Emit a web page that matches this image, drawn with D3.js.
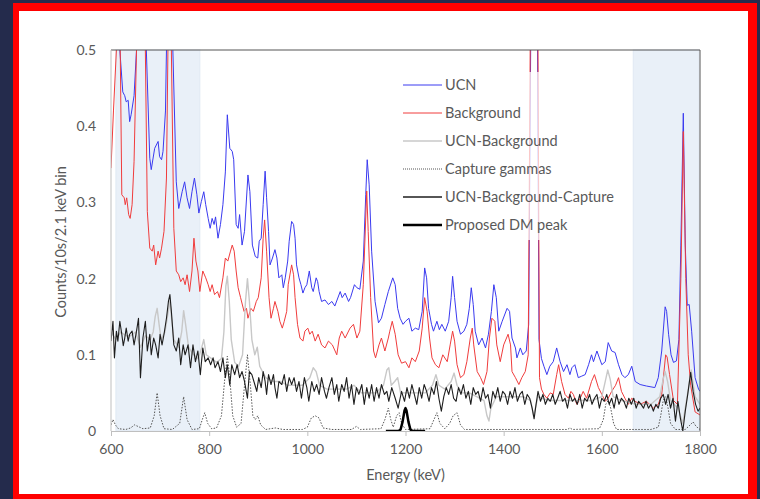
<!DOCTYPE html>
<html>
<head>
<meta charset="utf-8">
<script src="https://cdn.jsdelivr.net/npm/d3@7"></script>
<style>
  html, body { margin: 0; padding: 0; background: #242b4c; }
  svg { display: block; }
</style>
</head>
<body>
<div id="chart"></div>
<script>
// Energy spectrum: UCN run vs background

const xTicks = [600, 800, 1000, 1200, 1400, 1600, 1800];
const yTicks = [0, 0.1, 0.2, 0.3, 0.4, 0.5];
const yTickLabels = ["0", "0.1", "0.2", "0.3", "0.4", "0.5"];

// shaded energy windows (keV)
const shadedBands = [[610, 781], [1664, 1798]];

const legendLabels = ["UCN", "Background", "UCN-Background", "Capture gammas", "UCN-Background-Capture", "Proposed DM peak"];

// [energy keV, counts]
const ucn = [[600,0.56],[606,0.75],[612,0.62],[618,0.5],[624,0.445],[628,0.44],[631,0.432],[635,0.434],[638,0.406],[641,0.415],[647,0.44],[652,0.5],[660,0.9],[668,0.62],[672,0.5],[679,0.358],[682,0.343],[689,0.371],[696,0.38],[699,0.36],[703,0.356],[706,0.367],[711,0.42],[713,0.5],[720,1.0],[726,0.5],[733,0.327],[738,0.292],[745,0.314],[750,0.327],[755,0.306],[760,0.292],[765,0.314],[770,0.332],[775,0.31],[779,0.286],[784,0.301],[789,0.314],[793,0.297],[798,0.279],[802,0.266],[806,0.279],[810,0.271],[813,0.281],[818,0.253],[823,0.271],[828,0.297],[833,0.34],[837,0.415],[842,0.371],[847,0.367],[850,0.356],[855,0.271],[859,0.266],[862,0.284],[867,0.244],[872,0.262],[879,0.336],[883,0.314],[888,0.244],[894,0.229],[899,0.227],[902,0.249],[906,0.253],[910,0.297],[914,0.341],[917,0.306],[921,0.262],[924,0.218],[929,0.227],[934,0.238],[938,0.227],[942,0.201],[948,0.205],[951,0.188],[955,0.201],[960,0.223],[963,0.249],[968,0.275],[972,0.271],[975,0.253],[978,0.218],[983,0.201],[987,0.192],[991,0.181],[995,0.188],[999,0.192],[1004,0.21],[1009,0.188],[1012,0.183],[1018,0.201],[1021,0.196],[1024,0.183],[1029,0.17],[1036,0.172],[1043,0.166],[1050,0.17],[1056,0.164],[1067,0.183],[1071,0.175],[1077,0.181],[1084,0.17],[1088,0.175],[1096,0.192],[1101,0.188],[1107,0.186],[1114,0.223],[1119,0.31],[1122,0.356],[1126,0.323],[1131,0.236],[1138,0.17],[1145,0.142],[1151,0.148],[1158,0.166],[1165,0.183],[1174,0.201],[1179,0.192],[1184,0.161],[1189,0.148],[1195,0.14],[1200,0.144],[1207,0.148],[1213,0.131],[1220,0.135],[1227,0.133],[1234,0.157],[1239,0.214],[1243,0.201],[1247,0.161],[1253,0.14],[1257,0.131],[1264,0.144],[1269,0.133],[1274,0.14],[1281,0.131],[1288,0.144],[1293,0.175],[1296,0.203],[1300,0.175],[1305,0.144],[1312,0.127],[1319,0.131],[1325,0.14],[1330,0.161],[1334,0.188],[1338,0.166],[1342,0.131],[1349,0.113],[1356,0.122],[1363,0.109],[1369,0.127],[1375,0.157],[1380,0.192],[1385,0.175],[1390,0.131],[1397,0.144],[1407,0.161],[1412,0.157],[1417,0.122],[1424,0.109],[1427,0.096],[1434,0.109],[1439,0.1],[1446,0.105],[1451,0.14],[1455,0.5],[1463,2.5],[1469,0.5],[1472,0.12],[1477,0.095],[1482,0.085],[1488,0.074],[1494,0.085],[1501,0.091],[1508,0.109],[1515,0.091],[1522,0.078],[1529,0.087],[1535,0.074],[1539,0.083],[1545,0.087],[1552,0.07],[1559,0.072],[1566,0.074],[1573,0.087],[1579,0.1],[1583,0.091],[1590,0.105],[1600,0.087],[1607,0.091],[1613,0.116],[1620,0.105],[1627,0.103],[1634,0.087],[1641,0.074],[1647,0.07],[1654,0.074],[1661,0.085],[1668,0.065],[1678,0.061],[1691,0.059],[1708,0.057],[1715,0.07],[1722,0.105],[1729,0.163],[1732,0.157],[1736,0.127],[1741,0.1],[1746,0.09],[1752,0.092],[1757,0.12],[1761,0.244],[1766,0.417],[1770,0.244],[1774,0.165],[1778,0.166],[1783,0.131],[1790,0.07],[1797,0.055],[1800,0.052]];

const background = [[600,0.345],[605,0.42],[611,0.5],[615,0.8],[618,0.55],[622,0.31],[627,0.306],[629,0.297],[632,0.306],[636,0.284],[639,0.279],[643,0.297],[647,0.354],[652,0.5],[660,1.0],[670,0.5],[674,0.288],[679,0.24],[684,0.236],[687,0.244],[691,0.218],[696,0.236],[699,0.227],[703,0.24],[708,0.262],[713,0.332],[716,0.5],[721,1.0],[723,0.5],[728,0.266],[733,0.21],[738,0.205],[742,0.196],[747,0.201],[751,0.192],[755,0.205],[760,0.183],[765,0.21],[769,0.253],[773,0.223],[777,0.21],[781,0.183],[787,0.21],[793,0.201],[798,0.192],[802,0.183],[806,0.192],[811,0.179],[817,0.183],[821,0.175],[828,0.201],[833,0.227],[838,0.223],[843,0.235],[847,0.244],[851,0.236],[855,0.21],[859,0.188],[864,0.175],[871,0.157],[876,0.161],[879,0.148],[885,0.161],[890,0.157],[896,0.17],[900,0.175],[906,0.201],[910,0.253],[913,0.277],[917,0.236],[922,0.175],[926,0.148],[931,0.161],[934,0.17],[940,0.157],[944,0.144],[949,0.135],[953,0.144],[958,0.157],[961,0.192],[968,0.218],[972,0.205],[975,0.175],[980,0.14],[985,0.122],[991,0.118],[995,0.131],[1001,0.135],[1005,0.127],[1010,0.131],[1016,0.118],[1022,0.127],[1029,0.113],[1036,0.109],[1043,0.118],[1051,0.113],[1060,0.1],[1065,0.122],[1070,0.131],[1077,0.122],[1087,0.135],[1094,0.14],[1101,0.122],[1107,0.131],[1114,0.192],[1121,0.315],[1124,0.262],[1129,0.175],[1135,0.105],[1139,0.096],[1146,0.113],[1151,0.122],[1158,0.105],[1165,0.122],[1168,0.131],[1173,0.144],[1179,0.127],[1185,0.1],[1192,0.089],[1200,0.091],[1207,0.083],[1213,0.096],[1220,0.091],[1228,0.105],[1234,0.135],[1239,0.175],[1244,0.157],[1249,0.122],[1254,0.096],[1261,0.087],[1268,0.083],[1276,0.1],[1285,0.091],[1291,0.113],[1296,0.131],[1300,0.118],[1305,0.087],[1312,0.07],[1319,0.074],[1325,0.091],[1332,0.122],[1336,0.135],[1339,0.113],[1346,0.078],[1353,0.07],[1359,0.061],[1366,0.078],[1371,0.122],[1376,0.148],[1382,0.144],[1386,0.113],[1393,0.091],[1400,0.113],[1409,0.127],[1414,0.113],[1417,0.078],[1424,0.07],[1431,0.061],[1437,0.07],[1444,0.078],[1450,0.1],[1454,0.5],[1463,2.4],[1470,0.5],[1473,0.07],[1477,0.055],[1482,0.048],[1488,0.043],[1495,0.05],[1501,0.048],[1508,0.074],[1512,0.087],[1518,0.065],[1525,0.048],[1532,0.043],[1537,0.052],[1542,0.048],[1549,0.035],[1556,0.043],[1562,0.052],[1569,0.043],[1579,0.065],[1585,0.074],[1593,0.057],[1600,0.048],[1607,0.039],[1613,0.043],[1620,0.052],[1628,0.06],[1634,0.07],[1640,0.052],[1647,0.043],[1654,0.035],[1661,0.043],[1668,0.039],[1678,0.035],[1691,0.039],[1705,0.03],[1715,0.035],[1722,0.048],[1730,0.1],[1733,0.097],[1738,0.074],[1746,0.04],[1754,0.035],[1761,0.2],[1766,0.393],[1771,0.2],[1776,0.1],[1781,0.06],[1790,0.025],[1800,0.021]];

const ucnMinusBg = [[600,0.13],[610,0.12],[620,0.13],[630,0.125],[640,0.125],[650,0.13],[660,0.11],[670,0.125],[680,0.12],[686,0.13],[690,0.15],[694,0.161],[698,0.14],[702,0.12],[710,0.13],[720,0.17],[728,0.12],[738,0.11],[744,0.13],[748,0.158],[752,0.14],[758,0.11],[768,0.1],[778,0.095],[785,0.11],[789,0.12],[794,0.1],[805,0.095],[815,0.09],[825,0.095],[830,0.13],[834,0.19],[837,0.203],[841,0.17],[845,0.12],[852,0.09],[860,0.085],[868,0.1],[874,0.17],[878,0.2],[882,0.17],[887,0.12],[893,0.1],[898,0.11],[903,0.085],[915,0.07],[930,0.065],[945,0.065],[960,0.06],[975,0.06],[990,0.06],[1005,0.07],[1012,0.083],[1018,0.078],[1025,0.06],[1040,0.055],[1060,0.055],[1080,0.055],[1095,0.06],[1110,0.05],[1125,0.05],[1140,0.05],[1155,0.06],[1162,0.08],[1166,0.083],[1171,0.06],[1178,0.065],[1184,0.07],[1190,0.05],[1200,0.05],[1220,0.05],[1240,0.05],[1255,0.06],[1262,0.074],[1268,0.06],[1280,0.055],[1293,0.065],[1299,0.076],[1305,0.06],[1315,0.05],[1330,0.05],[1345,0.045],[1360,0.04],[1366,0.02],[1370,0.013],[1374,0.03],[1385,0.045],[1400,0.045],[1420,0.045],[1440,0.045],[1455,0.04],[1461,0.02],[1470,0.045],[1490,0.04],[1520,0.04],[1550,0.04],[1580,0.04],[1600,0.045],[1607,0.065],[1612,0.08],[1617,0.068],[1623,0.045],[1640,0.04],[1670,0.035],[1700,0.035],[1718,0.045],[1725,0.068],[1729,0.078],[1734,0.065],[1740,0.04],[1755,0.03],[1765,0.01],[1775,0.05],[1782,0.08],[1790,0.045],[1800,0.035]];

const captureGammas = [[600,0.008],[604,0.015],[609,0.008],[615,0.003],[630,0.002],[640,0.004],[648,0.008],[655,0.006],[665,0.003],[680,0.004],[688,0.02],[694,0.05],[700,0.02],[708,0.003],[725,0.002],[740,0.01],[748,0.045],[755,0.015],[765,0.002],[780,0.003],[786,0.015],[791,0.024],[797,0.01],[805,0.003],[815,0.004],[825,0.02],[832,0.07],[837,0.098],[842,0.07],[848,0.02],[856,0.005],[865,0.01],[872,0.06],[878,0.1],[884,0.06],[889,0.02],[894,0.015],[899,0.02],[905,0.008],[915,0.002],[935,0.004],[950,0.002],[990,0.002],[1000,0.005],[1008,0.017],[1016,0.02],[1024,0.017],[1032,0.004],[1050,0.002],[1090,0.002],[1100,0.006],[1108,0.002],[1150,0.003],[1158,0.015],[1165,0.03],[1170,0.015],[1175,0.005],[1182,0.02],[1187,0.024],[1192,0.01],[1200,0.002],[1250,0.003],[1258,0.015],[1264,0.024],[1270,0.01],[1280,0.003],[1290,0.01],[1297,0.02],[1305,0.024],[1312,0.008],[1320,0.002],[1400,0.002],[1530,0.002],[1535,0.004],[1540,0.002],[1595,0.003],[1603,0.015],[1608,0.035],[1613,0.04],[1618,0.03],[1624,0.01],[1630,0.002],[1700,0.002],[1715,0.005],[1720,0.02],[1725,0.04],[1730,0.045],[1735,0.03],[1740,0.01],[1750,0.002],[1770,0.002],[1780,0.008],[1786,0.012],[1792,0.006],[1800,0.002]];

const ucnMinusBgCapture = [[600,0.118],[604,0.144],[607,0.096],[611,0.131],[614,0.118],[618,0.144],[622,0.127],[625,0.112],[628,0.122],[631,0.135],[635,0.118],[638,0.127],[643,0.131],[647,0.113],[652,0.131],[656,0.148],[660,0.07],[665,0.122],[670,0.144],[674,0.105],[679,0.127],[682,0.1],[687,0.122],[691,0.113],[696,0.096],[700,0.127],[704,0.113],[708,0.127],[713,0.148],[717,0.17],[720,0.179],[723,0.157],[728,0.113],[733,0.105],[738,0.122],[742,0.087],[747,0.113],[751,0.1],[757,0.113],[762,0.083],[767,0.113],[772,0.091],[777,0.105],[782,0.074],[787,0.109],[792,0.091],[798,0.096],[803,0.087],[808,0.096],[812,0.083],[818,0.091],[823,0.078],[828,0.096],[833,0.07],[837,0.087],[842,0.06],[846,0.087],[852,0.074],[857,0.087],[862,0.07],[867,0.078],[872,0.065],[878,0.043],[882,0.078],[887,0.074],[893,0.061],[897,0.052],[901,0.07],[906,0.057],[910,0.078],[914,0.065],[917,0.048],[921,0.074],[926,0.061],[931,0.074],[934,0.057],[938,0.043],[942,0.065],[948,0.061],[953,0.074],[958,0.052],[963,0.07],[968,0.061],[973,0.07],[978,0.052],[983,0.065],[988,0.043],[994,0.07],[999,0.057],[1003,0.039],[1009,0.065],[1014,0.052],[1019,0.061],[1024,0.048],[1029,0.07],[1035,0.052],[1039,0.043],[1044,0.057],[1050,0.07],[1055,0.048],[1060,0.061],[1064,0.039],[1070,0.061],[1075,0.052],[1080,0.07],[1085,0.043],[1090,0.061],[1095,0.035],[1100,0.057],[1105,0.048],[1111,0.061],[1116,0.035],[1121,0.057],[1126,0.043],[1131,0.061],[1136,0.039],[1141,0.057],[1146,0.043],[1151,0.061],[1157,0.048],[1162,0.052],[1166,0.039],[1172,0.057],[1179,0.043],[1185,0.03],[1192,0.052],[1198,0.039],[1203,0.057],[1208,0.043],[1213,0.061],[1218,0.048],[1223,0.035],[1228,0.057],[1233,0.043],[1238,0.061],[1243,0.052],[1248,0.039],[1253,0.057],[1258,0.048],[1263,0.065],[1268,0.043],[1273,0.026],[1278,0.045],[1283,0.057],[1288,0.048],[1293,0.061],[1298,0.043],[1303,0.039],[1308,0.057],[1313,0.048],[1318,0.061],[1323,0.043],[1328,0.052],[1333,0.035],[1338,0.057],[1343,0.048],[1348,0.052],[1353,0.039],[1358,0.057],[1363,0.043],[1368,0.048],[1373,0.03],[1378,0.052],[1383,0.043],[1388,0.057],[1393,0.039],[1398,0.052],[1403,0.048],[1408,0.035],[1413,0.052],[1418,0.043],[1423,0.057],[1428,0.039],[1433,0.048],[1438,0.052],[1443,0.035],[1448,0.048],[1453,0.043],[1458,0.03],[1462,0.016],[1466,0.035],[1470,0.052],[1475,0.039],[1480,0.048],[1485,0.035],[1490,0.043],[1495,0.039],[1500,0.048],[1505,0.035],[1510,0.043],[1515,0.052],[1520,0.039],[1525,0.043],[1530,0.03],[1535,0.048],[1540,0.039],[1545,0.043],[1550,0.035],[1555,0.048],[1560,0.03],[1565,0.043],[1570,0.039],[1575,0.048],[1580,0.035],[1585,0.043],[1590,0.048],[1595,0.03],[1600,0.043],[1605,0.039],[1610,0.048],[1615,0.035],[1620,0.043],[1625,0.03],[1630,0.048],[1635,0.035],[1640,0.043],[1645,0.039],[1650,0.03],[1655,0.043],[1660,0.035],[1665,0.043],[1670,0.03],[1675,0.039],[1680,0.035],[1685,0.03],[1690,0.039],[1695,0.03],[1700,0.035],[1705,0.026],[1710,0.035],[1715,0.03],[1720,0.043],[1725,0.048],[1730,0.035],[1735,0.048],[1740,0.03],[1745,0.043],[1750,0.013],[1755,0.039],[1760,0.017],[1765,0.0],[1770,0.026],[1775,0.048],[1781,0.077],[1786,0.052],[1791,0.035],[1796,0.026],[1800,0.03]];

const dmPeak = [[1160,0],[1186,0],[1190,0.002],[1194,0.012],[1198,0.027],[1200,0.03],[1202,0.027],[1206,0.012],[1210,0.002],[1214,0],[1240,0]];

// Layout
const width = 760;
const height = 499;
const plot = { left: 111, right: 700, top: 50, bottom: 431 };
const textColor = "#595959";
const font = "Lato, 'Open Sans', sans-serif";

const svg = d3.select("#chart")
    .append("svg")
    .attr("width", width)
    .attr("height", height);

// slide background, red frame, white card
svg.append("rect").attr("width", width).attr("height", height).attr("fill", "#242b4c");
svg.append("rect").attr("x", 13).attr("y", 3).attr("width", 744).attr("height", 496).attr("fill", "#ff0000");
svg.append("rect").attr("x", 19).attr("y", 11).attr("width", 729).attr("height", 483).attr("fill", "#ffffff");

const x = d3.scaleLinear().domain([600, 1800]).range([plot.left, plot.right]);
const y = d3.scaleLinear().domain([0, 0.5]).range([plot.bottom, plot.top]);

svg.append("clipPath").attr("id", "plot-clip")
    .append("rect")
    .attr("x", plot.left)
    .attr("y", plot.top)
    .attr("width", plot.right - plot.left)
    .attr("height", plot.bottom - plot.top);

// shaded windows
svg.selectAll("rect.band")
    .data(shadedBands)
    .enter()
    .append("rect")
    .attr("class", "band")
    .attr("x", d => x(d[0]))
    .attr("y", plot.top)
    .attr("width", d => x(d[1]) - x(d[0]))
    .attr("height", plot.bottom - plot.top)
    .attr("fill", "#e9f0f8")
    .attr("stroke", "#e0e9f3")
    .attr("stroke-width", 1);

const line = d3.line()
    .x(d => x(d[0]))
    .y(d => y(d[1]));

const series = [
    { data: ucn, color: "#3a3af0", width: 1, dash: null },
    { data: background, color: "#f03c3c", width: 1, dash: null },
    { data: ucnMinusBg, color: "#c8c8c8", width: 1.4, dash: null },
    { data: captureGammas, color: "#555555", width: 1, dash: "1.5,1.5" },
    { data: ucnMinusBgCapture, color: "#1e1e1e", width: 1.1, dash: null },
    { data: dmPeak, color: "#000000", width: 2.5, dash: null }
];

const lines = svg.append("g").attr("clip-path", "url(#plot-clip)");
series.forEach(s => {
    lines.append("path")
        .attr("d", line(s.data))
        .attr("fill", "none")
        .attr("stroke", s.color)
        .attr("stroke-width", s.width)
        .attr("stroke-dasharray", s.dash)
        .attr("stroke-linejoin", "round");
});

// plot frame: dark top/right, light axes left/bottom
svg.append("path")
    .attr("d", `M${plot.left},${plot.top}H${plot.right}V${plot.bottom}`)
    .attr("fill", "none")
    .attr("stroke", "#555555")
    .attr("stroke-width", 1);
svg.append("line")
    .attr("x1", plot.left).attr("x2", plot.left)
    .attr("y1", plot.top).attr("y2", plot.bottom)
    .attr("stroke", "#bfbfbf");

const xAxis = svg.append("g")
    .attr("transform", `translate(0,${plot.bottom})`)
    .call(d3.axisBottom(x).tickValues(xTicks).tickSize(5).tickSizeOuter(0).tickFormat(d3.format("d")));
xAxis.select(".domain").attr("stroke", "#bfbfbf");
xAxis.selectAll(".tick line").attr("stroke", "#bfbfbf");
xAxis.selectAll(".tick text")
    .attr("y", 19)
    .attr("dy", "0.32em")
    .attr("fill", textColor)
    .attr("font-family", font)
    .attr("font-size", "14px");

const yAxis = svg.append("g")
    .attr("transform", `translate(${plot.left},0)`)
    .call(d3.axisLeft(y).tickValues(yTicks).tickSize(0).tickFormat((d, i) => yTickLabels[i]));
yAxis.select(".domain").remove();
yAxis.selectAll(".tick text")
    .attr("x", -15)
    .attr("fill", textColor)
    .attr("font-family", font)
    .attr("font-size", "14px");

// axis titles
svg.append("text")
    .attr("x", (plot.left + plot.right) / 2)
    .attr("y", 480)
    .attr("text-anchor", "middle")
    .attr("fill", textColor)
    .attr("font-family", font)
    .attr("font-size", "14.5px")
    .text("Energy (keV)");

svg.append("text")
    .attr("transform", "rotate(-90)")
    .attr("x", -242)
    .attr("y", 66)
    .attr("text-anchor", "middle")
    .attr("fill", textColor)
    .attr("font-family", font)
    .attr("font-size", "14.5px")
    .text("Counts/10s/2.1 keV bin");

// legend (semi-transparent white box over the lines)
const legend = svg.append("g");
legend.append("rect")
    .attr("x", 398).attr("y", 72)
    .attr("width", 230).attr("height", 168)
    .attr("fill", "#ffffff")
    .attr("fill-opacity", 0.72);

const legendRow = legend.selectAll("g.row")
    .data(series)
    .enter()
    .append("g")
    .attr("class", "row")
    .attr("transform", (d, i) => `translate(0, ${85 + i * 28})`);

legendRow.append("line")
    .attr("x1", 403).attr("x2", 442)
    .attr("y1", 0).attr("y2", 0)
    .attr("stroke", d => d.color)
    .attr("stroke-width", d => d.width === 1.1 ? 1.4 : d.width)
    .attr("stroke-dasharray", d => d.dash ? "1,1" : null);

legendRow.append("text")
    .attr("x", 445)
    .attr("y", 0)
    .attr("dy", "0.36em")
    .attr("fill", textColor)
    .attr("font-family", font)
    .attr("font-size", "14.5px")
    .text((d, i) => legendLabels[i]);
</script>
</body>
</html>
